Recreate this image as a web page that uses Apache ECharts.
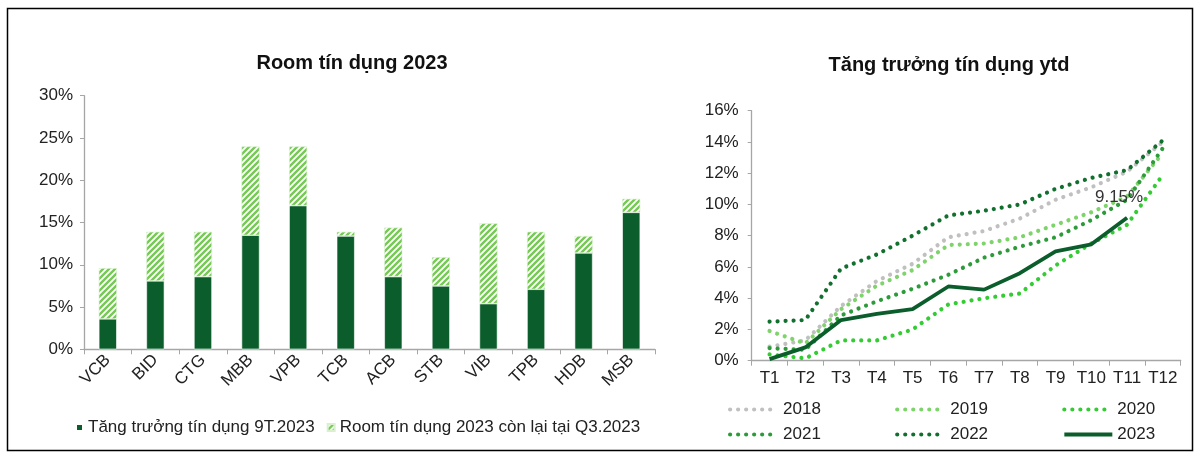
<!DOCTYPE html>
<html>
<head>
<meta charset="utf-8">
<script src="https://cdn.jsdelivr.net/npm/echarts@6/dist/echarts.min.js"></script>
<style>
html,body{margin:0;padding:0;background:#fff;}
#c{width:1200px;height:456px;}
</style>
</head>
<body>
<div id="c"></div>
<script>
// ---- Left chart data ----
const banks = ['VCB','BID','CTG','MBB','VPB','TCB','ACB','STB','VIB','TPB','HDB','MSB'];
const growth9T = [3.6, 8.1, 8.6, 13.5, 17.0, 13.4, 8.6, 7.5, 5.4, 7.1, 11.4, 16.2];
const roomLeft = [6.0, 5.8, 5.3, 10.5, 7.0, 0.5, 5.8, 3.4, 9.5, 6.8, 2.0, 1.6];
const leftTicks = {min: 0, max: 30, interval: 5};

// ---- Right chart data ----
const months = ['T1','T2','T3','T4','T5','T6','T7','T8','T9','T10','T11','T12'];
const y2018 = [0.9, 1.3, 3.5, 5.1, 6.2, 7.9, 8.3, 9.1, 10.3, 11.1, 12.1, 14.0];
const y2019 = [1.9, 1.1, 3.3, 4.8, 5.8, 7.4, 7.5, 7.9, 8.7, 9.5, 10.5, 13.3];
const y2020 = [0.4, 0.15, 1.3, 1.3, 2.0, 3.6, 4.0, 4.3, 6.1, 7.5, 8.7, 11.9];
const y2021 = [0.8, 0.7, 2.9, 3.8, 4.6, 5.5, 6.6, 7.3, 7.9, 9.0, 10.3, 13.6];
const y2022 = [2.5, 2.6, 5.9, 6.8, 8.0, 9.3, 9.6, 10.0, 11.0, 11.7, 12.2, 14.1];
const y2023 = [0.1, 0.85, 2.6, 3.0, 3.3, 4.75, 4.55, 5.6, 7.0, 7.45, 9.15, null];
const labelIndex2023 = 10;
const rightTicks = {min: 0, max: 16, interval: 2};

// hatch pattern
function makeHatch() {
  const s = 6;
  const cv = document.createElement('canvas');
  cv.width = s; cv.height = s;
  const g = cv.getContext('2d');
  g.fillStyle = '#ffffff';
  g.fillRect(0, 0, s, s);
  g.strokeStyle = '#76C955';
  g.lineWidth = 2.4;
  g.beginPath();
  g.moveTo(-1, s + 1); g.lineTo(s + 1, -1);
  g.moveTo(-1, 1); g.lineTo(1, -1);
  g.moveTo(s - 1, s + 1); g.lineTo(s + 1, s - 1);
  g.stroke();
  return cv;
}
const hatch = makeHatch();

const FONT = "'Liberation Sans', Arial, sans-serif";
const axisGray = '#a6a6a6';
const FS = 17;

function dotted(name, data, color) {
  return {
    name: name, type: 'line', xAxisIndex: 1, yAxisIndex: 1,
    data: data, symbol: 'none', smooth: false,
    lineStyle: {color: color, width: 4.2, type: [0.01, 8], cap: 'round'},
    itemStyle: {color: color}, z: 3
  };
}

const chart = echarts.init(document.getElementById('c'), null, {renderer: 'canvas'});
chart.setOption({
  animation: false,
  backgroundColor: '#ffffff',
  textStyle: {fontFamily: FONT},
  title: [
    {text: 'Room tín dụng 2023', left: 347, top: 48, textAlign: 'center',
     textStyle: {fontSize: 20, fontWeight: 'bold', color: '#111', fontFamily: FONT}},
    {text: 'Tăng trưởng tín dụng ytd', left: 944, top: 50, textAlign: 'center',
     textStyle: {fontSize: 20, fontWeight: 'bold', color: '#111', fontFamily: FONT}}
  ],
  graphic: [{
    type: 'rect', shape: {x: 7.5, y: 8.5, width: 1185, height: 442},
    style: {fill: 'none', stroke: '#000', lineWidth: 1.5}, silent: true
  }],
  legend: [
    {left: 70, top: 414, itemWidth: 7, itemHeight: 7, itemGap: 12,
     icon: 'rect',
     data: ['Tăng trưởng tín dụng 9T.2023', 'Room tín dụng 2023 còn lại tại Q3.2023'],
     textStyle: {fontSize: FS, color: '#222', fontFamily: FONT}},
    {left: 723, top: 396, itemWidth: 48, itemHeight: 14, itemGap: 74.2,
     itemStyle: {opacity: 0}, lineStyle: {width: 4.2},
     data: ['2018', '2019', '2020'],
     textStyle: {fontSize: FS, color: '#222', fontFamily: FONT}},
    {left: 723, top: 421, itemWidth: 48, itemHeight: 14, itemGap: 74.2,
     itemStyle: {opacity: 0}, lineStyle: {width: 4.2},
     data: ['2021', '2022', '2023'],
     textStyle: {fontSize: FS, color: '#222', fontFamily: FONT}}
  ],
  grid: [
    {left: 84, right: 545, top: 95.7, bottom: 106.7, containLabel: false},
    {left: 751.7, right: 19.3, top: 110.7, bottom: 95.3, containLabel: false}
  ],
  xAxis: [
    {type: 'category', gridIndex: 0, data: banks, boundaryGap: true,
     axisLine: {lineStyle: {color: axisGray, width: 1.3}},
     axisTick: {show: true, length: 5, lineStyle: {color: axisGray}},
     axisLabel: {rotate: 45, interval: 0, fontSize: FS, color: '#222', margin: 8, fontFamily: FONT}},
    {type: 'category', gridIndex: 1, data: months, boundaryGap: true,
     axisLine: {lineStyle: {color: axisGray, width: 1.3}},
     axisTick: {show: true, length: 5, lineStyle: {color: axisGray}},
     axisLabel: {interval: 0, fontSize: FS, color: '#222', margin: 9, fontFamily: FONT}}
  ],
  yAxis: [
    {type: 'value', gridIndex: 0, min: leftTicks.min, max: leftTicks.max, interval: leftTicks.interval,
     splitLine: {show: false},
     axisLine: {show: true, lineStyle: {color: axisGray, width: 1.3}},
     axisTick: {show: true, length: 4, lineStyle: {color: axisGray}},
     axisLabel: {formatter: '{value}%', fontSize: FS, color: '#222', margin: 11, fontFamily: FONT}},
    {type: 'value', gridIndex: 1, min: rightTicks.min, max: rightTicks.max, interval: rightTicks.interval,
     splitLine: {show: false},
     axisLine: {show: true, lineStyle: {color: axisGray, width: 1.3}},
     axisTick: {show: true, length: 4, lineStyle: {color: axisGray}},
     axisLabel: {formatter: '{value}%', fontSize: FS, color: '#222', margin: 13, fontFamily: FONT}}
  ],
  series: [
    {name: 'Tăng trưởng tín dụng 9T.2023', type: 'bar', stack: 'room', xAxisIndex: 0, yAxisIndex: 0,
     data: growth9T, barWidth: 18,
     itemStyle: {color: '#0B5E2B', borderColor: '#ffffff', borderWidth: 0.6}},
    {name: 'Room tín dụng 2023 còn lại tại Q3.2023', type: 'bar', stack: 'room', xAxisIndex: 0, yAxisIndex: 0,
     data: roomLeft, barWidth: 18,
     itemStyle: {color: {image: hatch, repeat: 'repeat'}, borderColor: '#d9f0cf', borderWidth: 0.6}},
    dotted('2018', y2018, '#C0C0C0'),
    dotted('2019', y2019, '#7ED36B'),
    dotted('2020', y2020, '#33CC33'),
    dotted('2021', y2021, '#2E9B3B'),
    dotted('2022', y2022, '#12702F'),
    {name: '2023', type: 'line', xAxisIndex: 1, yAxisIndex: 1, symbol: 'circle', symbolSize: 0,
     showSymbol: true,
     data: y2023.map((v, i) => i === labelIndex2023 ? {
       value: v,
       label: {show: true, position: 'top', offset: [-8, -7], formatter: p => p.value + '%',
               fontSize: FS, color: '#333', fontFamily: FONT}
     } : v),
     lineStyle: {color: '#0B5E2B', width: 3.8},
     itemStyle: {color: '#0B5E2B'}, z: 5}
  ]
});
</script>
</body>
</html>
